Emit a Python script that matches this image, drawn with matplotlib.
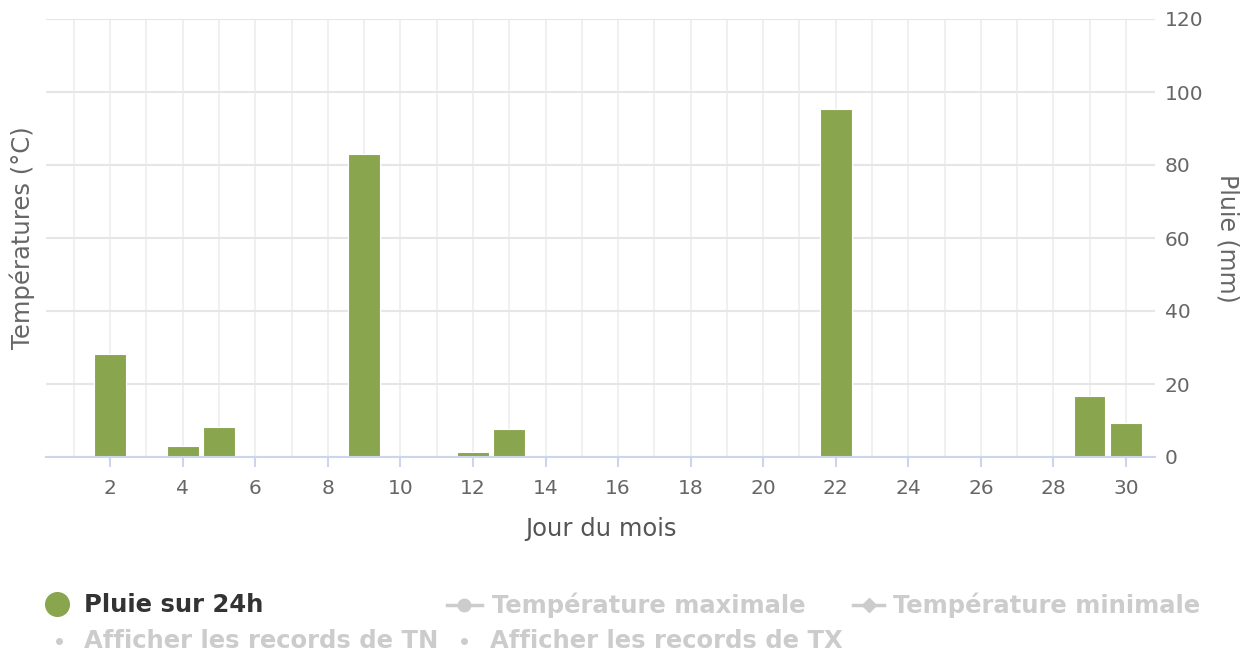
import matplotlib
matplotlib.use("Agg")
import matplotlib.pyplot as plt
from matplotlib.lines import Line2D

days = list(range(1, 31))
rain = [0, 28.2, 0, 3.0, 8.1, 0, 0, 0, 82.9, 0, 0, 1.3, 7.6, 0, 0, 0, 0, 0, 0, 0,
        0, 95.4, 0, 0, 0, 0, 0, 0, 16.8, 9.2]
xticks = list(range(2, 31, 2))
yticks = [0, 20, 40, 60, 80, 100, 120]

W, H = 1250, 657
fig = plt.figure(figsize=(W / 100, H / 100), dpi=100)
ax = fig.add_axes([46 / W, 1 - 457 / H, (1155 - 46) / W, (457 - 19) / H])

green = "#89a54e"
ax.bar(days, rain, width=0.87, color=green, edgecolor="white", linewidth=0.8, zorder=3)

ax.set_xlim(0.23, 30.8)
ax.set_ylim(0, 120)
ax.set_xticks(days, minor=True)
ax.set_xticks(xticks)
ax.set_xticklabels([str(t) for t in xticks])
ax.set_yticks(yticks)
ax.yaxis.tick_right()
ax.yaxis.set_label_position("right")

for s in ["top", "left", "right"]:
    ax.spines[s].set_visible(False)
ax.spines["bottom"].set_color("#ccd6eb")
ax.spines["bottom"].set_linewidth(1.5)
ax.spines["bottom"].set_zorder(4)

ax.grid(True, which="both", axis="x", color="#ededed", linewidth=1.2, zorder=0)
ax.grid(True, which="major", axis="y", color="#e6e6e6", linewidth=1.5, zorder=0)
ax.tick_params(axis="x", which="major", length=7.5, width=1.5, color="#ccd6eb",
               labelcolor="#666666", labelsize=14.5, pad=8)
ax.tick_params(axis="x", which="minor", length=0)
ax.tick_params(axis="y", length=0, labelcolor="#666666", labelsize=14.5, pad=7)

ax.set_xlabel("Jour du mois", fontsize=17.5, color="#555555", labelpad=14)
ax.set_ylabel("Pluie (mm)", fontsize=17, color="#666666", rotation=270, labelpad=26)
fig.text(22 / W, 1 - 238 / H, "Températures (°C)", rotation=90, ha="center", va="center",
         fontsize=17.5, color="#666666")

# Legend
def fy(y):
    return 1 - y / H

LS = 17.5
fig.add_artist(Line2D([57 / W], [fy(604)], marker="o", markersize=17, color=green,
                      linestyle="none", transform=fig.transFigure))
fig.text(84 / W, fy(605), "Pluie sur 24h", fontsize=LS, fontweight="bold", color="#333333",
         va="center", ha="left")
gray = "#cccccc"
fig.add_artist(Line2D([447 / W, 482 / W], [fy(605), fy(605)], color=gray, linewidth=2.5,
                      transform=fig.transFigure))
fig.add_artist(Line2D([464 / W], [fy(605)], marker="o", markersize=9, color=gray,
                      linestyle="none", transform=fig.transFigure))
fig.text(492 / W, fy(605), "Température maximale", fontsize=LS, fontweight="bold", color=gray,
         va="center", ha="left")
fig.add_artist(Line2D([853 / W, 884 / W], [fy(605), fy(605)], color=gray, linewidth=2.5,
                      transform=fig.transFigure))
fig.add_artist(Line2D([869 / W], [fy(605)], marker="D", markersize=7, color=gray,
                      linestyle="none", transform=fig.transFigure))
fig.text(893 / W, fy(605), "Température minimale", fontsize=LS, fontweight="bold", color=gray,
         va="center", ha="left")
fig.add_artist(Line2D([59 / W], [fy(641)], marker="o", markersize=4, color=gray,
                      linestyle="none", transform=fig.transFigure))
fig.text(84 / W, fy(641), "Afficher les records de TN", fontsize=LS, fontweight="bold",
         color=gray, va="center", ha="left")
fig.add_artist(Line2D([464 / W], [fy(641)], marker="o", markersize=4, color=gray,
                      linestyle="none", transform=fig.transFigure))
fig.text(490 / W, fy(641), "Afficher les records de TX", fontsize=LS, fontweight="bold",
         color=gray, va="center", ha="left")

fig.savefig("out.png", dpi=100)
